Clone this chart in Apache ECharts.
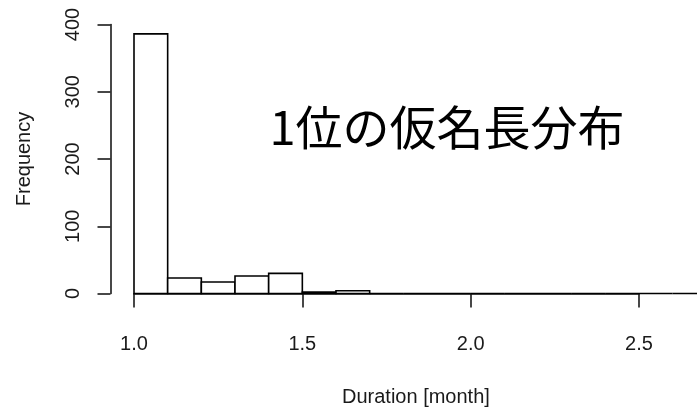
<!DOCTYPE html>
<html>
<head>
<meta charset="utf-8">
<script src="https://cdn.jsdelivr.net/npm/echarts@6/dist/echarts.min.js"></script>
<style>
  html, body { margin: 0; padding: 0; background: #ffffff; }
  #chart { width: 697px; height: 410px; }
</style>
</head>
<body>
<div id="chart"></div>
<script>
// Histogram bin edges (month) and counts per bin
var binEdges = [1.0, 1.1, 1.2, 1.3, 1.4, 1.5, 1.6, 1.7, 1.8, 1.9, 2.0, 2.1, 2.2, 2.3, 2.4, 2.5, 2.6, 2.7];
var counts = [386, 23, 17, 26, 30, 2, 4, 0, 0, 0, 0, 0, 0, 0, 0, 0, 0];
var xTicks = [1.0, 1.5, 2.0, 2.5];
var yTicks = [0, 100, 200, 300, 400];
var titleText = '1位の仮名長分布';
var xLabel = 'Duration [month]';
var yLabel = 'Frequency';

var bins = counts.map(function (c, i) { return [binEdges[i], binEdges[i + 1], c]; });

var font = '"Liberation Sans", Arial, sans-serif';
var ink = '#1a1a1a';

var chart = echarts.init(document.getElementById('chart'), null, { renderer: 'canvas' });
chart.setOption({
  backgroundColor: '#ffffff',
  animation: false,
  grid: { left: 134, width: 505, top: 24.5, height: 269 },
  xAxis: {
    type: 'value',
    min: xTicks[0],
    max: xTicks[xTicks.length - 1],
    interval: 0.5,
    offset: 11,
    splitLine: { show: false },
    axisLine: { show: true, lineStyle: { color: ink, width: 1.6 } },
    axisTick: { show: true, length: 14, lineStyle: { color: ink, width: 1.6 } },
    axisLabel: {
      margin: 30, fontSize: 20, fontFamily: font, color: ink,
      formatter: function (v) { return v.toFixed(1); }
    }
  },
  yAxis: {
    type: 'value',
    min: yTicks[0],
    max: yTicks[yTicks.length - 1],
    interval: 100,
    offset: 23.5,
    name: yLabel,
    nameLocation: 'middle',
    nameRotate: 90,
    nameGap: 76,
    nameTextStyle: { fontSize: 20, fontFamily: font, color: ink },
    splitLine: { show: false },
    axisLine: { show: true, lineStyle: { color: ink, width: 1.6 } },
    axisTick: { show: true, length: 13, lineStyle: { color: ink, width: 1.6 } },
    axisLabel: { rotate: 90, margin: 27, fontSize: 20, fontFamily: font, color: ink }
  },
  graphic: [
    {
      type: 'text', left: 342, top: 387,
      style: { text: xLabel, font: '20px ' + font, fill: ink }
    },
    {
      type: 'text', x: 447, y: 127,
      style: {
        text: titleText, font: '47px "Noto Sans CJK JP", sans-serif', fill: '#000',
        align: 'center', verticalAlign: 'middle'
      }
    }
  ],
  series: [{
    type: 'custom',
    clip: false,
    data: bins,
    renderItem: function (params, api) {
      var p0 = api.coord([api.value(0), api.value(2)]);
      var p1 = api.coord([api.value(1), 0]);
      return {
        type: 'rect',
        shape: { x: p0[0], y: p0[1], width: p1[0] - p0[0], height: p1[1] - p0[1] },
        style: { fill: '#ffffff', stroke: '#000000', lineWidth: 1.6 }
      };
    }
  }]
});
</script>
</body>
</html>
